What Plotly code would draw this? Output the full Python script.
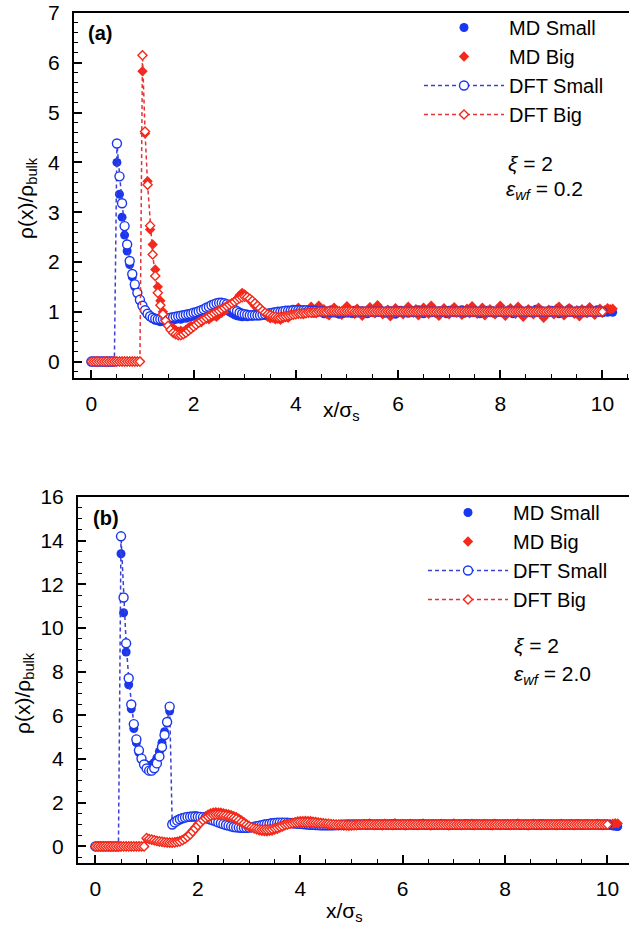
import plotly.graph_objects as go

# ---------------- x grid (step 0.05) ----------------
X_GRID = [0.00, 0.05, 0.10, 0.15, 0.20, 0.25, 0.30, 0.35, 0.40, 0.45,
          0.50, 0.55, 0.60, 0.65, 0.70, 0.75, 0.80, 0.85, 0.90, 0.95,
          1.00, 1.05, 1.10, 1.15, 1.20, 1.25, 1.30, 1.35, 1.40, 1.45,
          1.50, 1.55, 1.60, 1.65, 1.70, 1.75, 1.80, 1.85, 1.90, 1.95,
          2.00, 2.05, 2.10, 2.15, 2.20, 2.25, 2.30, 2.35, 2.40, 2.45,
          2.50, 2.55, 2.60, 2.65, 2.70, 2.75, 2.80, 2.85, 2.90, 2.95,
          3.00, 3.05, 3.10, 3.15, 3.20, 3.25, 3.30, 3.35, 3.40, 3.45,
          3.50, 3.55, 3.60, 3.65, 3.70, 3.75, 3.80, 3.85, 3.90, 3.95,
          4.00, 4.05, 4.10, 4.15, 4.20, 4.25, 4.30, 4.35, 4.40, 4.45,
          4.50, 4.55, 4.60, 4.65, 4.70, 4.75, 4.80, 4.85, 4.90, 4.95,
          5.00, 5.05, 5.10, 5.15, 5.20, 5.25, 5.30, 5.35, 5.40, 5.45,
          5.50, 5.55, 5.60, 5.65, 5.70, 5.75, 5.80, 5.85, 5.90, 5.95,
          6.00, 6.05, 6.10, 6.15, 6.20, 6.25, 6.30, 6.35, 6.40, 6.45,
          6.50, 6.55, 6.60, 6.65, 6.70, 6.75, 6.80, 6.85, 6.90, 6.95,
          7.00, 7.05, 7.10, 7.15, 7.20, 7.25, 7.30, 7.35, 7.40, 7.45,
          7.50, 7.55, 7.60, 7.65, 7.70, 7.75, 7.80, 7.85, 7.90, 7.95,
          8.00, 8.05, 8.10, 8.15, 8.20, 8.25, 8.30, 8.35, 8.40, 8.45,
          8.50, 8.55, 8.60, 8.65, 8.70, 8.75, 8.80, 8.85, 8.90, 8.95,
          9.00, 9.05, 9.10, 9.15, 9.20, 9.25, 9.30, 9.35, 9.40, 9.45,
          9.50, 9.55, 9.60, 9.65, 9.70, 9.75, 9.80, 9.85, 9.90, 9.95,
          10.00, 10.05, 10.10, 10.15, 10.20]

X_DFT = X_GRID[:201]   # DFT profiles: 0 .. 10.0
X_MD = X_GRID          # MD profiles: 0 .. 10.2

# ---------------- panel (a): xi=2, eps_wf=0.2 ----------------
A_DFT_SMALL = [0, 0, 0, 0, 0, 0, 0, 0, 0, 0,
               4.38, 3.72, 3.18, 2.72, 2.35, 2.02, 1.76, 1.55, 1.38, 1.24,
               1.12, 1.03, 0.96, 0.91, 0.88, 0.86, 0.85, 0.85, 0.85, 0.86,
               0.87, 0.88, 0.89, 0.90, 0.91, 0.92, 0.93, 0.94, 0.95, 0.96,
               0.98, 0.99, 1.01, 1.03, 1.05, 1.08, 1.10, 1.13, 1.15, 1.17,
               1.18, 1.18, 1.17, 1.15, 1.12, 1.08, 1.04, 1.01, 0.98, 0.96,
               0.95, 0.94, 0.93, 0.93, 0.93, 0.93, 0.93, 0.94, 0.95, 0.96,
               0.97, 0.98, 0.99, 1.00, 1.00, 1.01, 1.02, 1.02, 1.02, 1.03,
               1.03,
               1.03, 1.03, 1.03, 1.03, 1.02, 1.02, 1.02, 1.02, 1.01, 1.01,
               1.00, 1.00, 1.00, 1.00, 0.99, 0.99, 0.99, 0.99, 0.99, 0.99,
               0.99, 0.99, 0.99, 0.99, 1.00, 1.00, 1.00, 1.00, 1.00, 1.00] + [1.00] * 90

A_DFT_BIG = [0, 0, 0, 0, 0, 0, 0, 0, 0, 0,
             0, 0, 0, 0, 0, 0, 0, 0, 0, 0,
             6.15, 4.62, 3.55, 2.73, 2.15, 1.72, 1.38, 1.13, 0.95, 0.82,
             0.72, 0.64, 0.58, 0.55, 0.53, 0.53, 0.55, 0.58, 0.62, 0.66,
             0.70, 0.74, 0.78, 0.82, 0.85, 0.88, 0.91, 0.94, 0.97, 1.00,
             1.02, 1.05, 1.08, 1.11, 1.14, 1.17, 1.20, 1.24, 1.27, 1.29,
             1.30, 1.29, 1.26, 1.22, 1.17, 1.12, 1.07, 1.02, 0.98, 0.95,
             0.93, 0.91, 0.90, 0.89, 0.89, 0.90, 0.91, 0.92, 0.93, 0.94,
             0.95,
             0.96, 0.96, 0.97, 0.97, 0.98, 0.98, 0.99, 0.99, 1.00, 1.00,
             1.00, 1.00, 1.01, 1.01, 1.01, 1.01, 1.01, 1.01, 1.01, 1.01,
             1.01, 1.01, 1.00, 1.00, 1.00, 1.00, 1.00, 1.00, 1.00, 1.00] + [1.00] * 90

A_MD_SMALL = [0, 0, 0, 0, 0, 0, 0, 0, 0, 0,
              4.00, 3.36, 2.90, 2.54, 2.22, 1.95, 1.70, 1.50, 1.36, 1.22,
              1.13, 1.03, 0.95, 0.90, 0.86, 0.83, 0.82, 0.80, 0.81, 0.80,
              0.82, 0.84, 0.83, 0.85, 0.86, 0.85, 0.88, 0.87, 0.89, 0.90,
              0.92, 0.91, 0.94, 0.95, 0.97, 0.99, 1.00, 1.02, 1.04, 1.05,
              1.07, 1.06, 1.05, 1.03, 1.00, 0.97, 0.94, 0.92, 0.91, 0.90,
              0.91, 0.90, 0.92, 0.91, 0.93, 0.92, 0.94, 0.95, 0.96, 0.95,
              0.97, 0.98, 0.97, 0.99, 1.00, 0.99, 1.01, 1.03, 1.02, 1.05,
              1.03,
              1.04, 1.01, 0.98, 1.00, 1.02, 0.99, 0.97, 1.01, 1.03, 1.00,
              0.96, 0.99, 1.02, 1.04, 1.00, 0.98, 0.95, 1.00, 1.02, 0.99,
              1.01, 0.97, 1.03, 1.00, 0.98, 1.02, 0.99, 0.96, 1.01, 1.03,
              0.98, 1.00, 1.04, 0.99, 0.97, 1.01, 1.02, 0.98, 0.95, 1.00,
              1.03, 0.99, 1.01, 0.97, 1.00, 1.02, 0.98, 1.04, 0.99, 0.96,
              1.01, 1.03, 0.98, 1.00, 0.97, 1.02, 0.99, 1.01, 0.96, 1.03,
              1.00, 0.98, 1.02, 0.99, 1.04, 0.97, 1.00, 1.01, 0.98, 1.02,
              0.99, 0.96, 1.01, 1.03, 1.00, 0.98, 1.02, 0.97, 1.00, 1.04,
              0.98, 1.01, 0.99, 1.02, 0.96, 1.00, 1.03, 0.99, 0.97, 1.01,
              1.02, 0.98, 1.00, 1.05, 0.99, 0.97, 1.01, 1.00, 0.98, 1.03,
              0.99, 1.01, 0.96, 1.02, 1.00, 0.98, 1.06, 1.01, 0.99, 0.97,
              1.02, 1.00, 0.98, 1.03, 0.99, 1.01, 0.97, 1.04, 1.00, 0.98,
              1.02, 0.99, 1.01, 0.99]

A_MD_BIG = [0, 0, 0, 0, 0, 0, 0, 0, 0, 0,
            0, 0, 0, 0, 0, 0, 0, 0, 0, 0,
            5.83, 4.58, 3.62, 2.65, 2.35, 1.85, 1.50, 1.22, 1.00, 0.88,
            0.79, 0.72, 0.66, 0.63, 0.60, 0.62, 0.60, 0.64, 0.68, 0.72,
            0.70, 0.76, 0.80, 0.79, 0.84, 0.86, 0.85, 0.89, 0.92, 0.90,
            0.95, 0.98, 1.02, 1.05, 1.10, 1.15, 1.20, 1.26, 1.33, 1.38,
            1.35, 1.30, 1.25, 1.18, 1.12, 1.06, 1.00, 0.96, 0.93, 0.90,
            0.87, 0.88, 0.85, 0.86, 0.84, 0.87, 0.89, 0.88, 0.93, 0.95,
            0.97,
            1.08, 1.02, 0.95, 0.99, 1.02, 1.10, 1.04, 0.97, 1.12, 1.03,
            1.05, 0.96, 0.93, 1.01, 1.08, 1.03, 1.00, 0.94, 0.98, 1.11,
            1.02, 0.97, 0.96, 1.06, 1.01, 0.92, 0.99, 1.03, 1.09, 1.00,
            0.97, 1.13, 1.04, 0.95, 1.00, 1.04, 0.91, 0.98, 1.07, 1.02,
            1.01, 0.95, 0.99, 1.10, 1.03, 0.98, 1.05, 0.93, 1.00, 1.08,
            1.02, 0.96, 1.12, 1.04, 0.99, 0.92, 1.01, 1.07, 1.00, 0.95,
            1.04, 1.09, 0.98, 1.02, 0.94, 1.00, 1.06, 0.97, 1.11, 1.03,
            0.96, 1.00, 1.08, 0.93, 1.02, 1.05, 0.98, 0.95, 1.04, 1.12,
            0.99, 0.92, 1.03, 1.07, 1.00, 0.96, 1.10, 1.01, 0.90, 0.98,
            1.05, 1.02, 0.95, 0.99, 1.08, 1.03, 0.88, 0.97, 1.04, 1.00,
            0.95, 1.06, 1.10, 0.98, 0.93, 1.02, 1.07, 1.00, 0.96, 1.03,
            0.91, 1.05, 1.02, 0.97, 1.09, 1.01, 0.94, 1.00, 1.06, 0.98,
            1.03, 1.07, 1.05, 1.06]

# ---------------- panel (b): xi=2, eps_wf=2.0 ----------------
B_DFT_SMALL = [0, 0, 0, 0, 0, 0, 0, 0, 0, 0,
               14.20, 11.40, 9.30, 7.70, 6.50, 5.60, 4.90, 4.40, 4.02, 3.75,
               3.57, 3.47, 3.47, 3.58, 3.80, 4.12, 4.55, 5.10, 5.70, 6.40,
               1.00, 1.10, 1.18, 1.24, 1.29, 1.32, 1.35, 1.36, 1.37, 1.37,
               1.36, 1.35, 1.33, 1.30, 1.27, 1.23, 1.19, 1.15, 1.10, 1.06,
               1.02, 0.98, 0.95, 0.92, 0.89, 0.87, 0.86, 0.85, 0.85, 0.85,
               0.86, 0.88, 0.90, 0.92, 0.95, 0.97, 1.00, 1.02, 1.04, 1.06,
               1.07, 1.08, 1.09, 1.09, 1.09, 1.08, 1.07, 1.06, 1.05, 1.04,
               1.03,
               1.02, 1.01, 1.00, 0.99, 0.99, 0.98, 0.98, 0.97, 0.97, 0.97,
               0.97, 0.97, 0.97, 0.98, 0.98, 0.99, 0.99, 1.00, 1.00, 1.00] + [1.00] * 100

B_DFT_BIG = [0, 0, 0, 0, 0, 0, 0, 0, 0, 0,
             0, 0, 0, 0, 0, 0, 0, 0, 0, 0,
             0.38, 0.34, 0.31, 0.28, 0.25, 0.23, 0.21, 0.19, 0.18, 0.17,
             0.17, 0.18, 0.20, 0.23, 0.28, 0.35, 0.44, 0.55, 0.68, 0.82,
             0.96, 1.09, 1.20, 1.29, 1.36, 1.41, 1.44, 1.45, 1.45, 1.44,
             1.42, 1.40, 1.37, 1.34, 1.30, 1.25, 1.19, 1.12, 1.05, 0.98,
             0.92, 0.87, 0.83, 0.80, 0.78, 0.77, 0.77, 0.77, 0.78, 0.80,
             0.83, 0.86, 0.90, 0.94, 0.98, 1.01, 1.04, 1.06, 1.08, 1.09,
             1.10,
             1.10, 1.10, 1.10, 1.09, 1.09, 1.08, 1.07, 1.06, 1.05, 1.04,
             1.03, 1.02, 1.01, 1.00, 1.00, 0.99, 0.99, 0.98, 0.98, 0.98,
             0.98, 0.98, 0.99, 0.99, 1.00, 1.00, 1.00, 1.00, 1.00, 1.00] + [1.00] * 90

B_MD_SMALL = [0, 0, 0, 0, 0, 0, 0, 0, 0, 0,
              13.40, 10.70, 8.90, 7.40, 6.30, 5.40, 4.75, 4.30, 3.98, 3.80,
              3.72, 3.70, 3.74, 3.85, 4.05, 4.35, 4.75, 5.25, 5.65, 6.20,
              1.05, 1.15, 1.22, 1.28, 1.31, 1.35, 1.36, 1.38, 1.37, 1.40,
              1.38, 1.36, 1.37, 1.33, 1.30, 1.27, 1.22, 1.18, 1.13, 1.08,
              1.04, 1.00, 0.96, 0.93, 0.90, 0.88, 0.86, 0.84, 0.85, 0.83,
              0.86, 0.87, 0.89, 0.93, 0.95, 0.98, 1.01, 1.03, 1.05, 1.08,
              1.07, 1.10, 1.09, 1.11, 1.08, 1.10, 1.07, 1.05, 1.06, 1.03,
              1.04,
              1.02, 1.01, 1.00, 0.99, 0.97, 0.96, 0.95, 0.96, 0.97, 0.95,
              0.96, 0.98, 0.97, 0.99, 1.00, 1.01, 0.99, 0.98, 1.01, 1.00,
              1.02, 0.99, 0.97, 1.00, 1.01, 0.98, 1.03, 0.99, 1.00, 0.97,
              1.01, 0.99, 1.02, 0.98, 1.00, 1.04, 0.97, 0.99, 1.01, 1.00,
              0.98, 1.02, 0.99, 1.00, 0.96, 1.01, 1.03, 0.99, 0.98, 1.00,
              1.02, 0.97, 1.00, 1.01, 0.99, 1.03, 0.98, 1.00, 0.97, 1.02,
              0.99, 1.01, 0.98, 1.00, 1.04, 0.99, 0.97, 1.01, 1.00, 0.98,
              1.02, 0.99, 1.00, 0.96, 1.01, 1.03, 0.99, 0.98, 1.00, 1.02,
              0.97, 1.00, 1.01, 0.99, 1.03, 0.98, 1.00, 0.97, 1.02, 0.99,
              1.01, 0.98, 1.00, 1.04, 0.99, 0.97, 1.01, 1.00, 0.98, 1.02,
              0.99, 1.01, 0.97, 1.00, 1.02, 0.98, 1.00, 1.03, 0.99, 0.97,
              1.01, 1.00, 0.98, 1.02, 0.99, 1.01, 0.97, 1.00, 0.98, 0.99,
              0.96, 0.94, 0.92, 0.91]

B_MD_BIG = [0, 0, 0, 0, 0, 0, 0, 0, 0, 0,
            0, 0, 0, 0, 0, 0, 0, 0, 0, 0,
            0.35, 0.33, 0.30, 0.28, 0.26, 0.22, 0.21, 0.20, 0.18, 0.19,
            0.18, 0.20, 0.22, 0.26, 0.31, 0.38, 0.48, 0.60, 0.74, 0.88,
            1.02, 1.16, 1.28, 1.38, 1.46, 1.52, 1.55, 1.57, 1.56, 1.55,
            1.52, 1.50, 1.47, 1.44, 1.40, 1.35, 1.28, 1.20, 1.12, 1.03,
            0.95, 0.88, 0.82, 0.77, 0.73, 0.70, 0.69, 0.68, 0.70, 0.72,
            0.76, 0.80, 0.85, 0.90, 0.95, 1.00, 1.05, 1.09, 1.12, 1.15,
            1.16,
            1.17, 1.18, 1.17, 1.16, 1.14, 1.13, 1.11, 1.09, 1.07, 1.05,
            1.03, 1.01, 0.99, 0.97, 0.96, 0.95, 0.94, 0.94, 0.93, 0.94,
            0.95, 0.97, 0.99, 1.01, 1.03, 0.98, 1.05, 1.01, 0.97, 1.02,
            1.00, 0.96, 1.04, 0.99, 1.02, 0.97, 1.06, 1.00, 0.98, 1.03,
            0.96, 1.01, 1.04, 0.99, 1.02, 0.97, 1.00, 1.05, 0.98, 1.01,
            0.96, 1.03, 1.00, 0.98, 1.04, 0.99, 1.02, 0.96, 1.01, 1.05,
            0.98, 1.00, 0.97, 1.03, 1.01, 0.99, 1.04, 0.97, 1.02, 1.00,
            0.98, 1.03, 0.99, 1.01, 0.96, 1.04, 1.00, 0.98, 1.02, 0.99,
            1.03, 0.97, 1.01, 1.00, 1.05, 0.98, 0.99, 1.02, 0.96, 1.01,
            1.04, 0.99, 1.00, 0.97, 1.03, 1.01, 0.98, 1.02, 1.00, 0.97,
            1.01, 1.04, 0.99, 1.00, 0.98, 1.03, 0.97, 1.01, 1.02, 0.99,
            1.00, 1.03, 0.98, 1.01, 0.99, 1.04, 1.00, 0.97, 1.02, 1.01,
            1.03, 1.04, 1.06, 1.05]

for arr in (A_DFT_SMALL, A_DFT_BIG, B_DFT_SMALL, B_DFT_BIG):
    assert len(arr) == len(X_DFT), len(arr)
for arr in (A_MD_SMALL, A_MD_BIG, B_MD_SMALL, B_MD_BIG):
    assert len(arr) == len(X_MD), len(arr)

X_TICKS = [0, 2, 4, 6, 8, 10]
A_Y_TICKS = [0, 1, 2, 3, 4, 5, 6, 7]
B_Y_TICKS = [0, 2, 4, 6, 8, 10, 12, 14, 16]

# ---------------- styling ----------------
FONT = "Liberation Sans, Arial, Helvetica, sans-serif"
BLUE = "rgb(25,55,240)"
RED = "rgb(245,40,25)"
BLUE_LINE = "rgb(60,65,210)"
RED_LINE = "rgb(228,50,55)"
W, H = 629, 934
FS = 21
LFS = 20

fig = go.Figure()


def add_panel(xa, ya, legend, md_s, md_b, dft_s, dft_b):
    fig.add_trace(go.Scatter(x=X_MD, y=md_s, mode="markers", name="MD Small",
                             xaxis=xa, yaxis=ya, legend=legend,
                             marker=dict(symbol="circle", size=9, color=BLUE)))
    fig.add_trace(go.Scatter(x=X_MD, y=md_b, mode="markers", name="MD Big",
                             xaxis=xa, yaxis=ya, legend=legend,
                             marker=dict(symbol="diamond", size=8, color=RED)))
    fig.add_trace(go.Scatter(x=X_DFT, y=dft_s, mode="lines+markers", name="DFT Small",
                             xaxis=xa, yaxis=ya, legend=legend,
                             line=dict(color=BLUE_LINE, width=1.5, dash="4px,3px"),
                             marker=dict(symbol="circle", size=9, color="white",
                                         line=dict(color=BLUE, width=1.4))))
    fig.add_trace(go.Scatter(x=X_DFT, y=dft_b, mode="lines+markers", name="DFT Big",
                             xaxis=xa, yaxis=ya, legend=legend,
                             line=dict(color=RED_LINE, width=1.5, dash="4px,3px"),
                             marker=dict(symbol="diamond", size=7, color="white",
                                         line=dict(color=RED, width=1.4))))


add_panel("x", "y", "legend", A_MD_SMALL, A_MD_BIG, A_DFT_SMALL, A_DFT_BIG)
add_panel("x2", "y2", "legend2", B_MD_SMALL, B_MD_BIG, B_DFT_SMALL, B_DFT_BIG)

axis_common = dict(showline=True, linecolor="black", linewidth=2, automargin=False,
                   ticks="inside", ticklen=8, tickwidth=1.5, tickcolor="black",
                   showgrid=False, zeroline=False,
                   tickfont=dict(family=FONT, size=FS, color="black"))
minor_common = dict(ticklen=4, ticks="inside", tickcolor="black", tickwidth=1.2)

fig.update_layout(
    width=W, height=H,
    margin=dict(l=0, r=0, t=0, b=0, autoexpand=False),
    paper_bgcolor="white", plot_bgcolor="white",
    font=dict(family=FONT, color="black"),
    xaxis=dict(domain=[74 / W, 1.0], range=[-0.34, 10.52], anchor="y",
               tickvals=X_TICKS, mirror=True, ticklabelstandoff=6,
               minor=dict(dtick=0.5, **minor_common), **axis_common),
    yaxis=dict(domain=[1 - 378 / H, 1 - 13 / H], range=[-0.33, 7.0], anchor="x",
               tickvals=A_Y_TICKS, ticklabelstandoff=8,
               minor=dict(dtick=0.2, **minor_common), **axis_common),
    xaxis2=dict(domain=[78 / W, 1.0], range=[-0.34, 10.42], anchor="y2",
                tickvals=X_TICKS, mirror=True, ticklabelstandoff=6,
                minor=dict(dtick=0.5, **minor_common), **axis_common),
    yaxis2=dict(domain=[1 - 863 / H, 1 - 497 / H], range=[-0.76, 16.0], anchor="x2",
                tickvals=B_Y_TICKS, ticklabelstandoff=8,
                minor=dict(dtick=0.5, **minor_common), **axis_common),
    legend=dict(x=419 / W, y=1 - 8 / H, xanchor="left", yanchor="top",
                bgcolor="rgba(0,0,0,0)", itemwidth=80, tracegroupgap=0,
                font=dict(family=FONT, size=LFS, color="black")),
    legend2=dict(x=423 / W, y=1 - 493 / H, xanchor="left", yanchor="top",
                 bgcolor="rgba(0,0,0,0)", itemwidth=80, tracegroupgap=0,
                 font=dict(family=FONT, size=LFS, color="black")),
)

ann = []


def txt(x, y, s, size=FS, xanchor="center", yanchor="middle", angle=0):
    ann.append(dict(x=x / W, y=1 - y / H, xref="paper", yref="paper", text=s,
                    showarrow=False, xanchor=xanchor, yanchor=yanchor, textangle=angle,
                    font=dict(family=FONT, size=size, color="black")))


# panel labels
txt(86, 33, "<b>(a)</b>", size=20, xanchor="left")
txt(91, 518, "<b>(b)</b>", size=20, xanchor="left")
# axis titles
txt(27, 198, "ρ(x)/ρ<sub>bulk</sub>", angle=-90)
txt(24, 693, "ρ(x)/ρ<sub>bulk</sub>", angle=-90)
txt(341, 411, "x/σ<sub>s</sub>")
txt(344, 912, "x/σ<sub>s</sub>")
# parameter labels
txt(506, 163, "<i>ξ</i> = 2", xanchor="left")
txt(504, 190, "<i>ε<sub>wf</sub></i> = 0.2", xanchor="left")
txt(512, 645, "<i>ξ</i> = 2", xanchor="left")
txt(512, 675, "<i>ε<sub>wf</sub></i> = 2.0", xanchor="left")

fig.update_layout(annotations=ann)

fig.write_html("out.html",
               config={"displayModeBar": False},
               post_script="document.body.style.margin='0px';"
                           "document.body.style.padding='0px';"
                           "document.body.style.overflow='hidden';")
